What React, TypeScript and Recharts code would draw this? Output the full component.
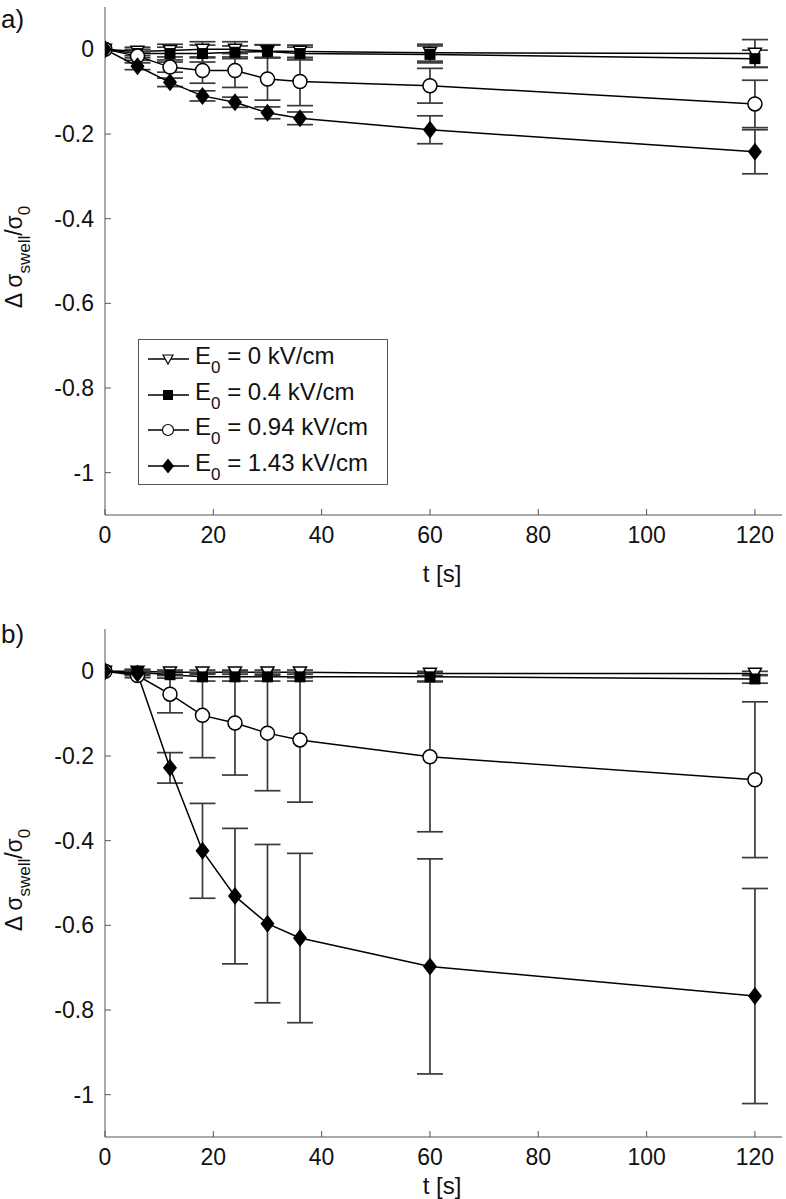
import React from 'react';
import { LineChart, Line, XAxis, YAxis, ErrorBar, Legend } from 'recharts';

// ---------- data ----------
const times = [0, 6, 12, 18, 24, 30, 36, 60, 120];
const xTicks = [0, 20, 40, 60, 80, 100, 120];
const yTicks = [0, -0.2, -0.4, -0.6, -0.8, -1];
const fieldLabels = ['0', '0.4', '0.94', '1.43'];

// panel a)
const aE0 = [0, -0.005, -0.003, 0, 0, -0.004, -0.005, -0.008, -0.01];
const aE0Err = [null, 0.01, 0.015, 0.018, 0.018, 0.015, 0.015, 0.02, 0.033];
const aE04 = [0, -0.01, -0.01, -0.01, -0.007, -0.005, -0.01, -0.012, -0.022];
const aE04Err = [null, 0.01, 0.015, 0.02, 0.015, 0.015, 0.015, 0.02, 0.02];
const aE094 = [0, -0.016, -0.042, -0.05, -0.05, -0.07, -0.076, -0.086, -0.129];
const aE094Err = [null, 0.01, 0.012, 0.03, 0.04, 0.05, 0.057, 0.041, 0.056];
const aE143 = [0, -0.04, -0.078, -0.11, -0.125, -0.15, -0.163, -0.19, -0.242];
const aE143Err = [null, 0.008, 0.01, 0.012, 0.012, 0.014, 0.015, 0.033, 0.052];

// panel b)
const bE0 = [0, 0, -0.002, -0.002, -0.002, -0.002, -0.002, -0.005, -0.005];
const bE0Err = [null, 0.005, 0.005, 0.005, 0.005, 0.005, 0.005, 0.005, 0.005];
const bE04 = [0, -0.002, -0.008, -0.013, -0.013, -0.013, -0.013, -0.013, -0.018];
const bE04Err = [null, 0.005, 0.008, 0.01, 0.01, 0.01, 0.01, 0.01, 0.01];
const bE094 = [0, -0.01, -0.054, -0.104, -0.122, -0.146, -0.162, -0.202, -0.256];
const bE094Err = [null, 0.005, 0.044, 0.1, 0.123, 0.136, 0.147, 0.177, 0.184];
const bE143 = [0, -0.005, -0.228, -0.424, -0.531, -0.596, -0.63, -0.697, -0.767];
const bE143Err = [null, 0.005, 0.036, 0.112, 0.16, 0.187, 0.2, 0.254, 0.254];

const buildRows = (s: any[][]) =>
  times.map((t, i) => ({
    t,
    s0: s[0][i], e0: s[1][i],
    s1: s[2][i], e1: s[3][i],
    s2: s[4][i], e2: s[5][i],
    s3: s[6][i], e3: s[7][i],
  }));

const dataA = buildRows([aE0, aE0Err, aE04, aE04Err, aE094, aE094Err, aE143, aE143Err]);
const dataB = buildRows([bE0, bE0Err, bE04, bE04Err, bE094, bE094Err, bE143, bE143Err]);

// ---------- markers ----------
const FONT = 'Liberation Sans, Arial, Helvetica, sans-serif';
const AX = '#555';
const EB = '#3a3a3a';

const triPath = (cx: number, cy: number, s: number) =>
  `M${cx - s},${cy - s * 0.8} L${cx + s},${cy - s * 0.8} L${cx},${cy + s} Z`;
const diaPath = (cx: number, cy: number, w: number, h: number) =>
  `M${cx},${cy - h} L${cx + w},${cy} L${cx},${cy + h} L${cx - w},${cy} Z`;

const TriDot = (p: any) => {
  if (p.cx == null || p.cy == null) return <g key={`t${p.index}`} />;
  return <path key={`t${p.index}`} d={triPath(p.cx, p.cy, 6.5)} fill="#fff" stroke="#000" strokeWidth={1.5} />;
};
const SqDot = (p: any) => {
  if (p.cx == null || p.cy == null) return <g key={`s${p.index}`} />;
  return <rect key={`s${p.index}`} x={p.cx - 5.5} y={p.cy - 5.5} width={11} height={11} fill="#000" />;
};
const CircDot = (p: any) => {
  if (p.cx == null || p.cy == null) return <g key={`c${p.index}`} />;
  return <circle key={`c${p.index}`} cx={p.cx} cy={p.cy} r={7} fill="#fff" stroke="#000" strokeWidth={1.5} />;
};
const DiaDot = (p: any) => {
  if (p.cx == null || p.cy == null) return <g key={`d${p.index}`} />;
  return <path key={`d${p.index}`} d={diaPath(p.cx, p.cy, 7, 9)} fill="#000" />;
};

const LegendBox = () => {
  const rowsY = [20, 56, 91, 127];
  const symbols = [
    (y: number) => <path d={triPath(30, y, 5)} fill="#fff" stroke="#000" strokeWidth={1.2} />,
    (y: number) => <rect x={25} y={y - 5} width={10} height={10} fill="#000" />,
    (y: number) => <circle cx={30} cy={y} r={5.5} fill="#fff" stroke="#000" strokeWidth={1.2} />,
    (y: number) => <path d={diaPath(30, y, 6, 7.5)} fill="#000" />,
  ];
  return (
    <svg width={250} height={146} style={{ display: 'block' }}>
      <rect x={0.5} y={0.5} width={249} height={145} fill="#fff" stroke={AX} strokeWidth={1} />
      {fieldLabels.map((lab, i) => (
        <g key={lab}>
          <line x1={10} x2={51} y1={rowsY[i]} y2={rowsY[i]} stroke="#000" strokeWidth={1.3} />
          {symbols[i](rowsY[i])}
          <text x={57} y={rowsY[i] + 5} fontSize={24} fontFamily={FONT} fill="#111">
            E<tspan dy={9} fontSize={17}>0</tspan>
            <tspan dy={-9}>{` = ${lab} kV/cm`}</tspan>
          </text>
        </g>
      ))}
    </svg>
  );
};

const Panel = ({ data, height, top, showLegend }: any) => (
  <LineChart
    width={786}
    height={height}
    data={data}
    margin={{ top, right: 4, bottom: height - top - 508 - 30, left: 45 }}
  >
    <XAxis
      xAxisId="b"
      dataKey="t"
      type="number"
      domain={[0, 125]}
      ticks={xTicks}
      allowDataOverflow
      tickSize={-6}
      tickMargin={18}
      height={30}
      stroke={AX}
      tick={{ fill: '#111', fontSize: 23, fontFamily: FONT }}
    />
    <XAxis
      xAxisId="t"
      orientation="top"
      dataKey="t"
      type="number"
      domain={[0, 125]}
      ticks={xTicks}
      allowDataOverflow
      tickSize={-6}
      height={0}
      stroke={AX}
      tickFormatter={() => ''}
    />
    <YAxis
      yAxisId="l"
      type="number"
      domain={[-1.1, 0.1]}
      ticks={yTicks}
      allowDataOverflow
      tickSize={-6}
      tickMargin={17}
      width={60}
      stroke={AX}
      tick={{ fill: '#111', fontSize: 23, fontFamily: FONT }}
    />
    <YAxis
      yAxisId="r"
      orientation="right"
      type="number"
      domain={[-1.1, 0.1]}
      ticks={yTicks}
      allowDataOverflow
      tickSize={-6}
      width={0}
      stroke={AX}
      tickFormatter={() => ''}
    />
    {showLegend && (
      <Legend
        layout="vertical"
        align="center"
        verticalAlign="middle"
        content={() => <LegendBox />}
        wrapperStyle={{ left: 138, top: 339, width: 250, height: 146 }}
      />
    )}
    {[
      { k: 's0', e: 'e0', dot: TriDot },
      { k: 's1', e: 'e1', dot: SqDot },
      { k: 's2', e: 'e2', dot: CircDot },
      { k: 's3', e: 'e3', dot: DiaDot },
    ].map((s) => (
      <Line
        key={s.k}
        xAxisId="b"
        yAxisId="l"
        type="linear"
        dataKey={s.k}
        stroke="#000"
        strokeWidth={1.5}
        dot={s.dot}
        activeDot={false}
        isAnimationActive={false}
        legendType="none"
      >
        <ErrorBar dataKey={s.e} width={13} stroke={EB} strokeWidth={1.7} direction="y" isAnimationActive={false} />
      </Line>
    ))}
  </LineChart>
);

const YLabel = ({ cx, cy }: { cx: number; cy: number }) => (
  <text transform={`translate(${cx},${cy}) rotate(-90)`} textAnchor="middle" fontSize={23} fontFamily={FONT} fill="#111">
    {'Δ σ'}
    <tspan dy={8} fontSize={17}>swell</tspan>
    <tspan dy={-8}>/σ</tspan>
    <tspan dy={8} fontSize={17}>0</tspan>
  </text>
);

export default function App() {
  return (
    <div style={{ position: 'absolute', left: 0, top: 0, width: 786, height: 1199, background: '#fff' }}>
      <div style={{ position: 'absolute', left: 0, top: 0 }}>
        <Panel data={dataA} height={600} top={7} showLegend />
      </div>
      <div style={{ position: 'absolute', left: 0, top: 600 }}>
        <Panel data={dataB} height={599} top={29} showLegend={false} />
      </div>
      <svg width={786} height={1199} style={{ position: 'absolute', left: 0, top: 0, pointerEvents: 'none' }}>
        <text x={1} y={28} fontSize={26} fontFamily={FONT} fill="#111">a)</text>
        <text x={1} y={643} fontSize={26} fontFamily={FONT} fill="#111">b)</text>
        <YLabel cx={22} cy={257} />
        <YLabel cx={22} cy={880} />
        <text x={442} y={582} textAnchor="middle" fontSize={24} fontFamily={FONT} fill="#111">t [s]</text>
        <text x={442} y={1194} textAnchor="middle" fontSize={24} fontFamily={FONT} fill="#111">t [s]</text>
      </svg>
    </div>
  );
}
